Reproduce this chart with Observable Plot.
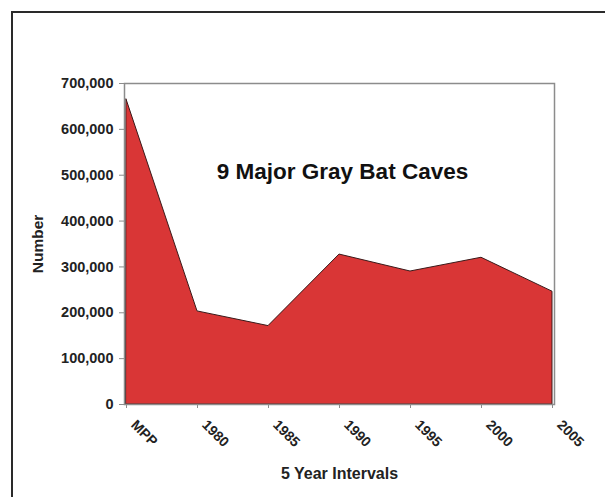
<!DOCTYPE html>
<html>
<head>
<meta charset="utf-8">
<script src="https://cdn.jsdelivr.net/npm/d3@7"></script>
<script src="https://cdn.jsdelivr.net/npm/@observablehq/plot@0.6"></script>
<style>
  html, body { margin: 0; padding: 0; background: #fff; }
  #wrap { position: relative; width: 605px; height: 497px; overflow: hidden; }
  #border { position: absolute; left: 11px; top: 11px; width: 700px; height: 600px;
            border-left: 2px solid #2a2a2a; border-top: 2px solid #2a2a2a; box-sizing: border-box; }
  #chart { position: absolute; left: 0; top: 0; }
</style>
</head>
<body>
<div id="wrap"><div id="border"></div><div id="chart"></div></div>
<script>
const periods = ["MPP", "1980", "1985", "1990", "1995", "2000", "2005"];
const counts = [665000, 203000, 171000, 327000, 290000, 320000, 246000];
const yTicks = [0, 100000, 200000, 300000, 400000, 500000, 600000, 700000];
const title = "9 Major Gray Bat Caves";

const data = periods.map((p, i) => ({period: p, count: counts[i]}));

const chart = Plot.plot({
  width: 605,
  height: 497,
  marginLeft: 124,
  marginRight: 51,
  marginTop: 83,
  marginBottom: 93,
  style: {fontFamily: "Arial, 'Liberation Sans', sans-serif", background: "transparent", overflow: "visible"},
  x: {type: "point", domain: periods, padding: 0, label: null},
  y: {domain: [0, 700000], label: null},
  marks: [
    Plot.areaY(data, {x: "period", y: "count", fill: "#d93636", stroke: "#3a1a1a", strokeWidth: 1, curve: "linear"}),
    Plot.frame({stroke: "#8c8c8c", strokeWidth: 1.5}),
    Plot.axisY({ticks: yTicks, tickFormat: d3.format(","), tickSize: 5, tickPadding: 6,
      stroke: "#8c8c8c", fill: "#222", fontWeight: "bold", fontSize: 14.5, label: null}),
    Plot.axisX({tickSize: 4, tickFormat: () => "", stroke: "#8c8c8c", label: null}),
    Plot.axisX({tickSize: 0, tickPadding: 8, tickRotate: 45, fill: "#222",
      fontWeight: "bold", fontSize: 14, dx: 7, dy: 10, label: null}),
    Plot.text([title], {frameAnchor: "top", lineAnchor: "middle", dy: 88, dx: 3, text: d => d, fontSize: 22.5, fontWeight: "bold", fill: "#111"}),
    Plot.text(["Number"], {frameAnchor: "left", textAnchor: "middle", lineAnchor: "middle", dx: -86, text: d => d, rotate: -90, fontSize: 15.5, fontWeight: "bold", fill: "#222"}),
    Plot.text(["5 Year Intervals"], {frameAnchor: "bottom", lineAnchor: "middle", dy: 69, text: d => d, fontSize: 16, fontWeight: "bold", fill: "#222"})
  ]
});
document.getElementById("chart").appendChild(chart);
</script>
</body>
</html>
